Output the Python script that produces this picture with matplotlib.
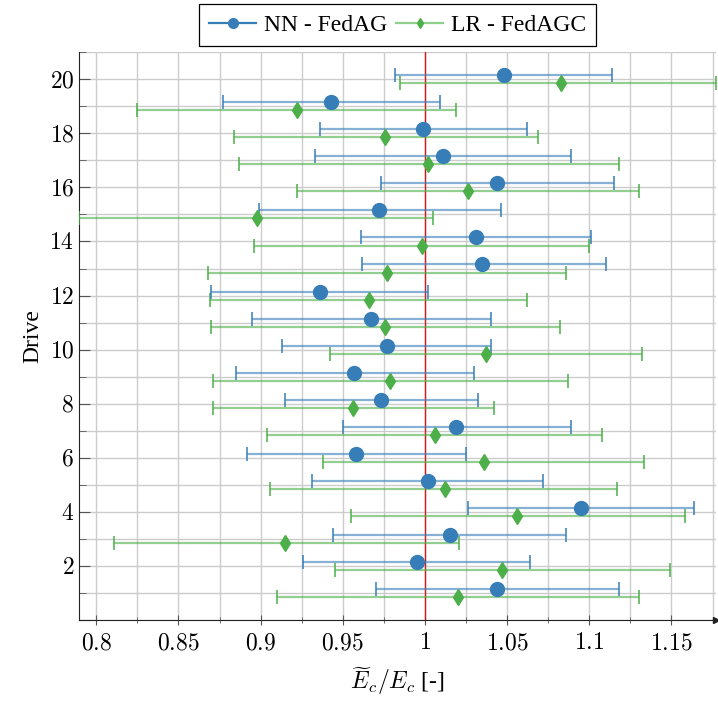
import numpy as np
import matplotlib
matplotlib.use('Agg')
import matplotlib.pyplot as plt
from matplotlib.lines import Line2D
from matplotlib.ticker import MultipleLocator, FuncFormatter

plt.rcParams['font.family'] = ['Liberation Serif', 'DejaVu Serif']
plt.rcParams['mathtext.fontset'] = 'cm'
plt.rcParams['font.size'] = 17

drives = np.arange(1, 21)
nn_mean = [1.044, 0.995, 1.015, 1.095, 1.002, 0.958, 1.019, 0.973, 0.957, 0.977,
           0.967, 0.936, 1.035, 1.031, 0.972, 1.044, 1.011, 0.999, 0.943, 1.048]
nn_low = [0.970, 0.926, 0.944, 1.026, 0.931, 0.892, 0.950, 0.915, 0.885, 0.913,
          0.895, 0.870, 0.962, 0.961, 0.899, 0.973, 0.933, 0.936, 0.877, 0.982]
nn_high = [1.118, 1.064, 1.086, 1.164, 1.072, 1.025, 1.089, 1.032, 1.030, 1.040,
           1.040, 1.002, 1.110, 1.101, 1.046, 1.115, 1.089, 1.062, 1.009, 1.114]
lr_mean = [1.020, 1.047, 0.915, 1.056, 1.012, 1.036, 1.006, 0.956, 0.979, 1.037,
           0.976, 0.966, 0.977, 0.998, 0.898, 1.026, 1.002, 0.976, 0.922, 1.083]
lr_low = [0.910, 0.945, 0.811, 0.955, 0.906, 0.938, 0.904, 0.871, 0.871, 0.942,
          0.870, 0.869, 0.868, 0.896, 0.7895, 0.922, 0.887, 0.884, 0.825, 0.985]
lr_high = [1.130, 1.149, 1.021, 1.158, 1.117, 1.133, 1.108, 1.042, 1.087, 1.132,
           1.082, 1.062, 1.086, 1.100, 1.005, 1.130, 1.118, 1.069, 1.019, 1.177]

blue = '#377eb8'
green = '#4daf4a'

fig = plt.figure(figsize=(7.18, 7.04), dpi=100)
ax = fig.add_axes([0.110, 0.119, 0.887, 0.807])


def draw_series(y, mean, low, high, color, marker, ms):
    mean = np.array(mean)
    err = [mean - np.array(low), np.array(high) - mean]
    data_line, caps, bars = ax.errorbar(mean, y, xerr=err, fmt=marker, color=color,
                                        ms=ms, mec=color, elinewidth=1.6, capsize=5,
                                        capthick=1.3, zorder=3)
    bars[0].set_alpha(0.6)
    for c in caps:
        c.set_alpha(0.85)


draw_series(drives - 0.15, lr_mean, lr_low, lr_high, green, 'd', 8)
draw_series(drives + 0.15, nn_mean, nn_low, nn_high, blue, 'o', 10)

ax.axvline(1.0, color='#d7191c', lw=1.0, zorder=2)

ax.set_xlim(0.7895, 1.177)
ax.set_ylim(0, 21)
ax.xaxis.set_major_locator(MultipleLocator(0.05))
ax.xaxis.set_minor_locator(MultipleLocator(0.025))
ax.yaxis.set_major_locator(MultipleLocator(2))
ax.yaxis.set_minor_locator(MultipleLocator(1))
ax.xaxis.set_major_formatter(FuncFormatter(lambda v, p: '$%g$' % round(v, 3)))
ax.yaxis.set_major_formatter(FuncFormatter(lambda v, p: '$%d$' % v if v > 0 else ''))
ax.grid(True, which='both', color='#cccccc', lw=1.0, zorder=0)
ax.set_axisbelow(True)
ax.tick_params(axis='x', which='major', direction='inout', color='#555555', length=7, pad=6)
ax.tick_params(axis='x', which='minor', direction='inout', color='#555555', length=5)
ax.tick_params(axis='y', which='major', direction='in', color='#555555', length=8)
ax.tick_params(axis='y', which='minor', direction='in', color='#555555', length=5)

ax.spines['top'].set_visible(False)
ax.spines['right'].set_visible(False)
ax.spines['left'].set_color('#222222')
ax.spines['bottom'].set_color('#222222')
ax.plot(1, 0, marker='>', color='#222222', ms=5, transform=ax.transAxes, clip_on=False)

ax.set_xlabel(r'$\widetilde{E}_c/E_c$ [-]', labelpad=8)
ax.set_ylabel('Drive')

handles = [Line2D([], [], color=blue, marker='o', ms=7, lw=1.6),
           Line2D([], [], color='#8fd18c', marker='d', ms=5.5, mfc=green, mec=green, lw=1.6)]
leg = ax.legend(handles, ['NN - FedAG', 'LR - FedAGC'], loc='lower center',
                bbox_to_anchor=(0.5, 1.011), ncol=2, fancybox=False, edgecolor='black',
                framealpha=1, handlelength=2.0, columnspacing=0.4, handletextpad=0.3,
                borderpad=0.42, borderaxespad=0)
leg.get_frame().set_linewidth(0.9)

fig.savefig('out.png', dpi=100)
